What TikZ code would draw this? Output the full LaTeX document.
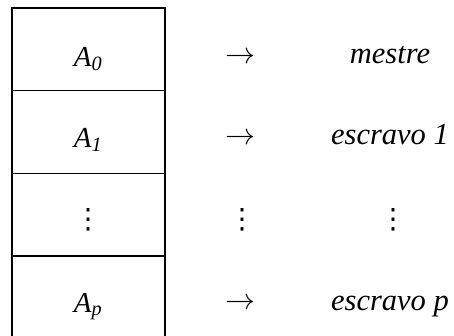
\documentclass[tikz,border=0pt]{standalone}
\usepackage{fontspec}
\usepackage{graphicx}
\setmainfont{Liberation Serif}
\newfontfamily\dejavu{DejaVu Sans}
\newcommand{\myvdots}{{\dejavu ⋮}}
\newcommand{\myarrow}{\resizebox{30pt}{!}{$\rightarrow$}}
\tikzset{
  cell/.style={draw, line width=1.5pt, minimum width=153pt, minimum height=82.7pt, inner sep=0pt},
  lbl/.style={anchor=base, inner sep=0pt, font=\fontsize{29}{34}\selectfont\itshape},
  word/.style={anchor=base, inner sep=0pt, font=\fontsize{30.5}{36}\selectfont\itshape},
  sym/.style={anchor=base, inner sep=0pt},
  dots/.style={inner sep=0pt, font=\fontsize{28}{34}\selectfont},
}
\begin{document}
\begin{tikzpicture}[x=1pt,y=-1pt]
\useasboundingbox (0,0) rectangle (454,335);
\clip (0,0) rectangle (454,335);
% column of cells
\node[cell] (c0) at (88.5,49.35) {};
\node[cell] (c1) at (88.5,132.05) {};
\node[cell] (c2) at (88.5,214.75) {};
\node[cell] (c3) at (88.5,297.45) {};
% cell contents
\node[lbl] (a0) at (88,66) {A\textsubscript{0}};
\node[lbl] (a1) at (88,147) {A\textsubscript{1}};
\node[dots] (ad) at (88,220) {\myvdots};
\node[lbl] (ap) at (88,312) {A\textsubscript{p}};
% arrows
\node[sym] (r0) at (240,63) {\myarrow};
\node[sym] (r1) at (240,144) {\myarrow};
\node[dots] (rd) at (242,220) {\myvdots};
\node[sym] (rp) at (240,309) {\myarrow};
% roles
\node[word] (m0) at (390,63) {mestre};
\node[word] (m1) at (390,144) {escravo 1};
\node[dots] (md) at (393,220) {\myvdots};
\node[word] (mp) at (390,310) {escravo p};
\end{tikzpicture}
\end{document}
